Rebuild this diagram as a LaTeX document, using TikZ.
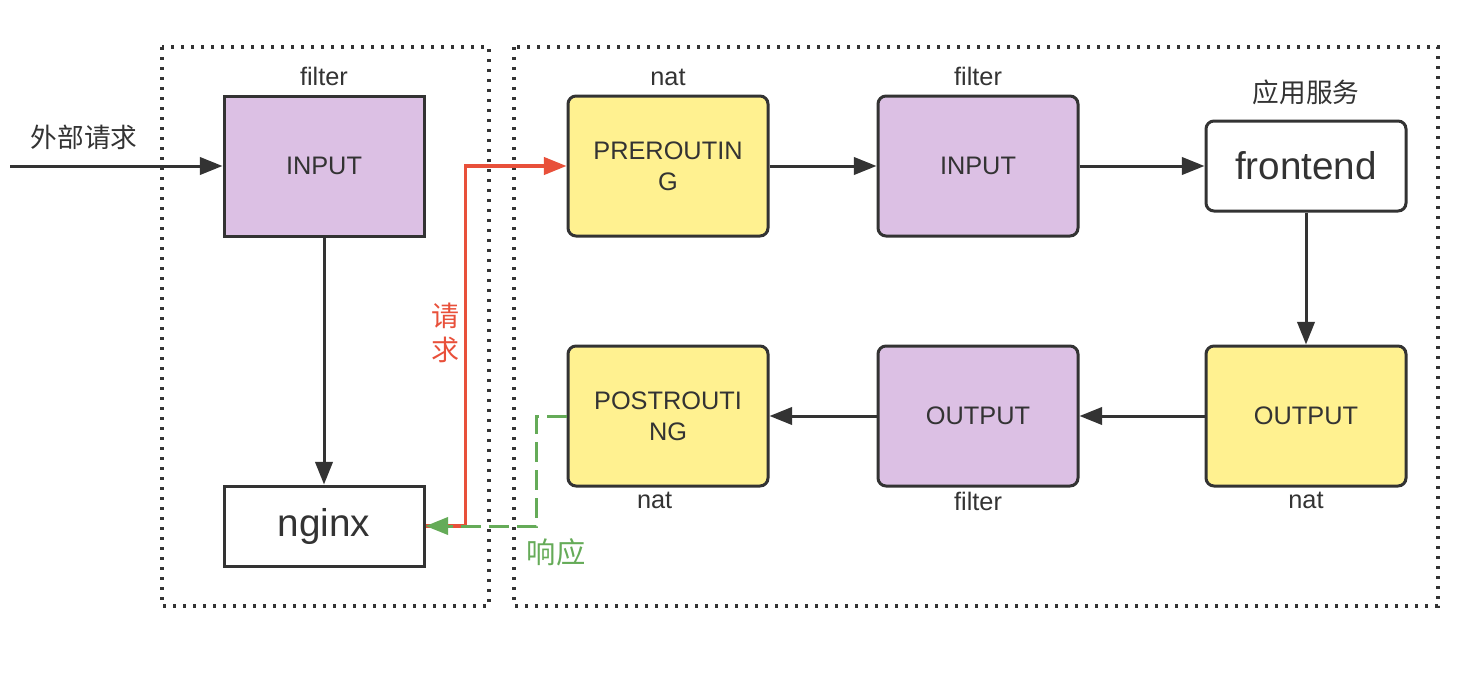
\documentclass[tikz,border=0pt]{standalone}
\usepackage{fontspec}
\setmainfont{Liberation Sans}
\newfontfamily\cjk{Noto Sans CJK SC}
\usetikzlibrary{positioning, arrows.meta}
\definecolor{ink}{HTML}{333333}
\definecolor{chainpurple}{HTML}{DCC0E4}
\definecolor{chainyellow}{HTML}{FFF190}
\definecolor{reqred}{HTML}{E8503A}
\definecolor{respgreen}{HTML}{65AB58}
\tikzset{
    on grid,
    x=0.75pt,
    y=-0.75pt,
    font=\fontsize{19}{23}\selectfont,
    box/.style={draw=ink, line width=2.25pt, text=ink, minimum width=150pt,
        minimum height=105pt, align=center, inner sep=0pt},
    filterbox/.style={box, fill=chainpurple, rounded corners=6pt},
    natbox/.style={box, fill=chainyellow, rounded corners=6pt},
    appbox/.style={box, fill=white, font=\fontsize{29}{35}\selectfont},
    tag/.style={text=ink, inner sep=0pt},
    cjktag/.style={inner sep=0pt, align=center, font=\cjk\fontsize{20}{27}\selectfont},
    frame/.style={ink, line width=2.5pt, dash pattern=on 2.5pt off 5pt},
    tip/.style={-{Triangle[length=17pt,width=13pt]}},
    flow/.style={ink, line width=2.25pt, tip},
    req/.style={reqred, line width=2.5pt, tip},
    resp/.style={respgreen, line width=2.25pt, dash pattern=on 15pt off 6pt, tip},
}

\begin{document}
\begin{tikzpicture}
    \useasboundingbox (0,0) rectangle (1484,674);

    % host and container
    \draw[frame] (162,47) rectangle (489,606);
    \draw[frame] (514,47) rectangle (1438,606);

    \node[filterbox, sharp corners] (inL) at (324,166) {INPUT};
    \node[appbox, minimum height=60pt, below=270pt of inL] (nginx) {nginx};

    \node[natbox] (pre) at (668,166) {PREROUTIN\\G};
    \node[filterbox, right=232.5pt of pre] (inR) {INPUT};
    \node[appbox, rounded corners=6pt, minimum height=67.5pt, right=246pt of inR] (front) {frontend};
    \node[natbox, below=187.5pt of front] (outN) {OUTPUT};
    \node[filterbox, left=246pt of outN] (outF) {OUTPUT};
    \node[natbox, left=232.5pt of outF] (post) {POSTROUTI\\NG};

    % table names
    \node[tag, above=6pt of inL.north] (inLtag) {filter};
    \node[tag, above=6pt of pre.north] (pretag) {nat};
    \node[tag, above=6pt of inR.north] (inRtag) {filter};
    \node[cjktag, text=ink, above=10.5pt of front.north] (fronttag) {应用服务};
    \node[tag, below=3pt of outN.south] (outNtag) {nat};
    \node[tag, below=3pt of outF.south] (outFtag) {filter};
    \node[tag, below=3pt of post.south, xshift=-10pt] (posttag) {nat};

    \coordinate (ext) at (10,166);
    \node[cjktag, text=ink] (exttag) at (84,137) {外部请求};

    \path[flow]
        (ext) edge (inL)
        (inL) edge (nginx)
        (pre) edge (inR)
        (inR) edge (front)
        (front) edge (outN)
        (outN) edge (outF)
        (outF) edge (post);

    % request and response
    \draw[req] (nginx.east) -- ++(40,0) |- (pre.west);
    \draw[resp] (post.west) -- ++(-30,0) |- (nginx.east);
    \node[cjktag, text=reqred, font=\cjk\fontsize{21}{26}\selectfont] (reqtag) at (445,333) {请\\求};
    \node[cjktag, text=respgreen, font=\cjk\fontsize{22}{27}\selectfont] (resptag) at (556,552) {响应};
\end{tikzpicture}
\end{document}
